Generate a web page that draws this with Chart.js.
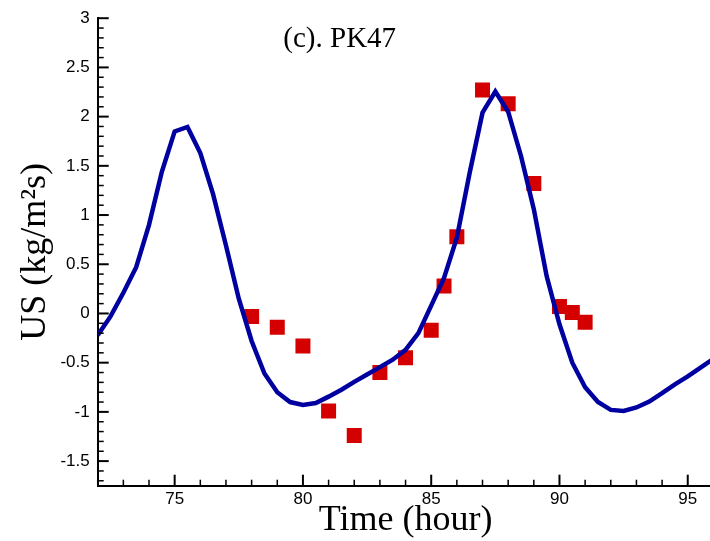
<!DOCTYPE html>
<html>
<head>
<meta charset="utf-8">
<script src="https://cdn.jsdelivr.net/npm/chart.js@4"></script>
<style>
  html, body { margin: 0; padding: 0; background: #fff; overflow: hidden; }
  canvas { display: block; }
</style>
</head>
<body>
<canvas id="chart" width="724" height="541"></canvas>
<script>
// model curve, every half hour
const lineTime = [72, 72.5, 73, 73.5, 74, 74.5, 75, 75.5, 76, 76.5, 77, 77.5, 78, 78.5, 79, 79.5,
  80, 80.5, 81, 81.5, 82, 82.5, 83, 83.5, 84, 84.5, 85, 85.5, 86, 86.5, 87, 87.5,
  88, 88.5, 89, 89.5, 90, 90.5, 91, 91.5, 92, 92.5, 93, 93.5, 94, 94.5, 95, 95.5, 96];
const lineUS = [-0.22, -0.03, 0.21, 0.47, 0.90, 1.44, 1.85, 1.895, 1.63, 1.21, 0.69, 0.15, -0.28, -0.61, -0.80, -0.90,
  -0.93, -0.91, -0.845, -0.775, -0.695, -0.62, -0.545, -0.47, -0.37, -0.20, 0.08, 0.36, 0.77, 1.43, 2.04, 2.255,
  2.05, 1.60, 1.06, 0.38, -0.11, -0.50, -0.75, -0.90, -0.98, -0.99, -0.955, -0.895, -0.81, -0.72, -0.64, -0.55, -0.46];

// measured points
const obsTime = [78, 79, 80, 81, 82, 83, 84, 85, 85.5, 86, 87, 88, 89, 90, 90.5, 91];
const obsUS = [-0.03, -0.14, -0.33, -0.99, -1.24, -0.60, -0.45, -0.17, 0.28, 0.78, 2.27, 2.13, 1.32, 0.07, 0.01, -0.09];

const xTicks = [75, 80, 85, 90, 95];
const yTicks = [-1.5, -1, -0.5, 0, 0.5, 1, 1.5, 2, 2.5, 3];
const panelLabel = '(c). PK47';

const toPoints = (xs, ys) => xs.map((x, i) => ({ x: x, y: ys[i] }));

// ticks pointing into the plot, plus the panel label
const insideTicks = {
  id: 'insideTicks',
  afterDraw(chart) {
    const { ctx, chartArea: a, scales: { x, y } } = chart;
    ctx.save();
    ctx.strokeStyle = '#000';
    for (let v = Math.ceil(x.min); v <= x.max; v++) {
      const px = x.getPixelForValue(v);
      const major = v % 5 === 0;
      ctx.lineWidth = major ? 2 : 1.5;
      ctx.beginPath();
      ctx.moveTo(px, a.bottom);
      ctx.lineTo(px, a.bottom - (major ? 11 : 6));
      ctx.stroke();
    }
    for (let k = Math.ceil(y.min * 10); k <= Math.round(y.max * 10); k++) {
      const py = y.getPixelForValue(k / 10);
      const major = k % 5 === 0;
      ctx.lineWidth = major ? 2 : 1.5;
      ctx.beginPath();
      ctx.moveTo(a.left, py);
      ctx.lineTo(a.left + (major ? 11 : 6), py);
      ctx.stroke();
    }
    ctx.fillStyle = '#000';
    ctx.font = '29px "Liberation Serif", "Times New Roman", serif';
    ctx.textAlign = 'center';
    ctx.textBaseline = 'alphabetic';
    ctx.fillText(panelLabel, a.left + 242, a.top + 29);
    ctx.restore();
  }
};

const tickFont = { family: '"Liberation Sans", Arial, sans-serif', size: 17 };
const titleFont = { family: '"Liberation Serif", "Times New Roman", serif', size: 36, lineHeight: 1 };

new Chart(document.getElementById('chart').getContext('2d'), {
  type: 'scatter',
  data: {
    datasets: [{
      type: 'line',
      label: 'model',
      data: toPoints(lineTime, lineUS),
      borderColor: '#0000a0',
      borderWidth: 4.5,
      pointRadius: 0,
      tension: 0,
      fill: false
    }, {
      label: 'measured',
      data: toPoints(obsTime, obsUS),
      pointStyle: 'rect',
      pointRadius: 10.6,
      pointBorderWidth: 0,
      backgroundColor: '#d40000',
      borderColor: '#d40000'
    }]
  },
  options: {
    responsive: false,
    animation: false,
    layout: { padding: { top: 16, right: 2.3, left: 0, bottom: 0 } },
    plugins: { legend: { display: false }, tooltip: { enabled: false } },
    scales: {
      x: {
        type: 'linear',
        min: 72,
        max: 96,
        afterBuildTicks: s => { s.ticks = xTicks.map(v => ({ value: v })); },
        afterFit: s => { s.height = 55.3; },
        grid: { display: false, drawTicks: false },
        border: { display: true, color: '#000', width: 2 },
        ticks: { color: '#000', font: tickFont, padding: 3, maxRotation: 0 },
        title: { display: true, text: 'Time (hour)', color: '#000', font: titleFont, padding: { top: 0, bottom: 2 } }
      },
      y: {
        min: -1.75,
        max: 3,
        afterBuildTicks: s => { s.ticks = yTicks.map(v => ({ value: v })); },
        afterFit: s => { s.width = 97.7; },
        grid: { display: false, drawTicks: false },
        border: { display: true, color: '#000', width: 2 },
        ticks: { color: '#000', font: tickFont, padding: 8, callback: v => String(v) },
        title: { display: true, text: 'US (kg/m²s)', color: '#000', font: titleFont, padding: { top: 18, bottom: 0 } }
      }
    }
  },
  plugins: [insideTicks]
});
</script>
</body>
</html>
